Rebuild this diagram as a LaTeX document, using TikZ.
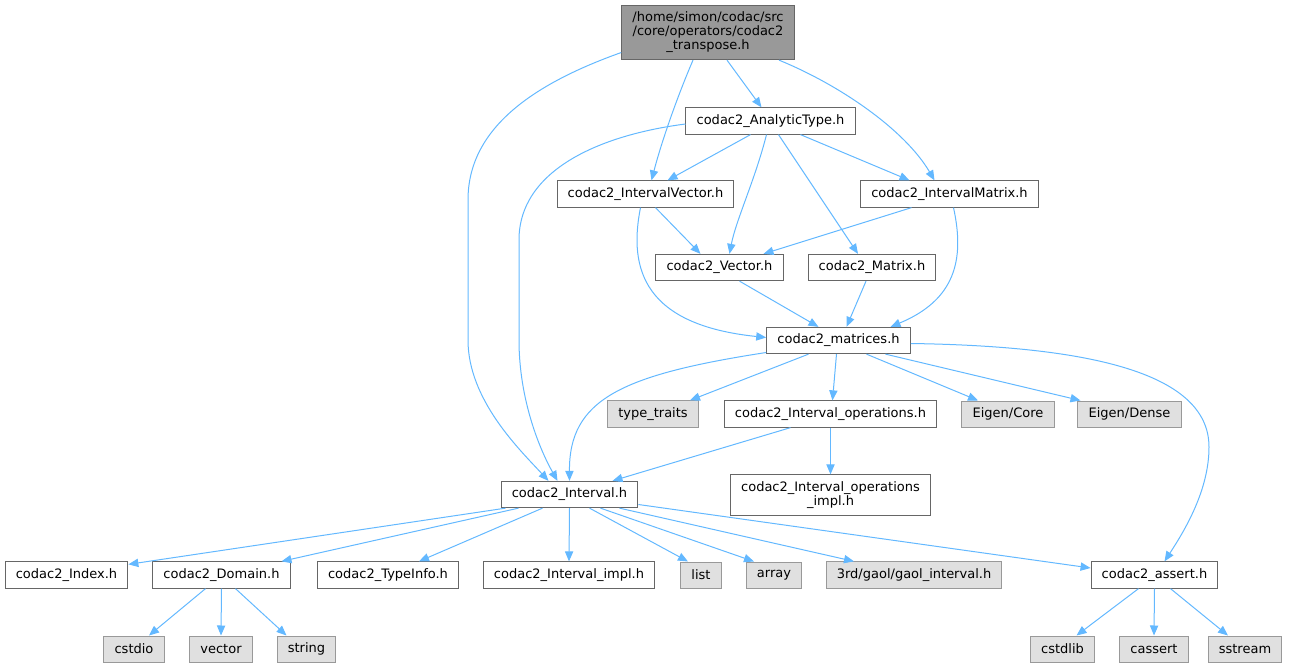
\documentclass[tikz,border=0pt]{standalone}
\usepackage{fontspec}
\setmainfont{DejaVu Sans}
\usepackage{tikz}
\usetikzlibrary{arrows.meta, calc}

\definecolor{grey40}{HTML}{666666}
\definecolor{grey60}{HTML}{999999}
\definecolor{grey87}{HTML}{E0E0E0}
\definecolor{edgeblue}{HTML}{63B8FF}

\begin{document}
\begin{tikzpicture}[x=0.75pt, y=-0.75pt,
        font=\fontsize{9.75}{10.5}\selectfont,
        hfile/.style = {draw=grey40, fill=white, line width=0.75pt, align=center, inner xsep=8pt, inner ysep=5pt, minimum height=19.5pt},
        sysfile/.style = {hfile, draw=grey60, fill=grey87},
        topfile/.style = {hfile, fill=grey60},
        incl/.style = {draw=edgeblue, line width=0.75pt, -{Triangle[length=7.5pt, width=6.2pt]}},
    ]
    \useasboundingbox (0,0) rectangle (1293,667);
    \node[topfile]  (transpose)  at (708,32.5)    {/home/simon/codac/src\\/core/operators/codac2\\\_transpose.h};
    \node[hfile]    (analytic)   at (770.5,121)   {codac2\_AnalyticType.h};
    \node[hfile]    (ivector)    at (645.5,194)   {codac2\_IntervalVector.h};
    \node[hfile]    (imatrix)    at (949.5,194)   {codac2\_IntervalMatrix.h};
    \node[hfile]    (vector)     at (719.5,267.5) {codac2\_Vector.h};
    \node[hfile]    (matrix)     at (872,267.5)   {codac2\_Matrix.h};
    \node[hfile]    (matrices)   at (838.5,340.5) {codac2\_matrices.h};
    \node[sysfile]  (typetraits) at (653,414)     {type\_traits};
    \node[hfile]    (ops)        at (830.5,414)   {codac2\_Interval\_operations.h};
    \node[sysfile]  (eigencore)  at (1008,414)    {Eigen/Core};
    \node[sysfile]  (eigendense) at (1129.5,414)  {Eigen/Dense};
    \node[hfile]    (opsimpl)    at (830.5,495)   {codac2\_Interval\_operations\\\_impl.h};
    \node[hfile]    (interval)   at (569.5,494.5) {codac2\_Interval.h};
    \node[hfile]    (index)      at (66.5,575)    {codac2\_Index.h};
    \node[hfile]    (domain)     at (221.5,575)   {codac2\_Domain.h};
    \node[hfile]    (typeinfo)   at (388,575)     {codac2\_TypeInfo.h};
    \node[hfile]    (intimpl)    at (569,575)     {codac2\_Interval\_impl.h};
    \node[sysfile]  (list)       at (701,575)     {list};
    \node[sysfile]  (array)      at (774,575)     {array};
    \node[sysfile]  (gaol)       at (914,575)     {3rd/gaol/gaol\_interval.h};
    \node[hfile]    (assert)     at (1154.5,575)  {codac2\_assert.h};
    \node[sysfile]  (cstdio)     at (134,649)     {cstdio};
    \node[sysfile]  (vectorh)    at (221,649)     {vector};
    \node[sysfile]  (string)     at (306.5,649)   {string};
    \node[sysfile]  (cstdlib)    at (1062.5,649)  {cstdlib};
    \node[sysfile]  (cassert)    at (1154,649)    {cassert};
    \node[sysfile]  (sstream)    at (1245,649)    {sstream};
    %
    \draw[incl] ($(transpose.west)+(0,20)$) .. controls (530,85) and (468,130) .. (468,200) -- (468,340) .. controls (468,400) and (520,450) .. ($(interval.north)+(-21,0)$);
    \draw[incl] ($(transpose.south)+(-15,0)$) .. controls (678,95) and (662,140) .. ($(ivector.north)+(6,0)$);
    \draw[incl] ($(transpose.south)+(19,0)$) -- ($(analytic.north)+(-9,0)$);
    \draw[incl] ($(transpose.south)+(71,0)$) .. controls (840,85) and (905,130) .. ($(imatrix.north)+(-15,0)$);
    \draw[incl] ($(analytic.west)+(0,3)$) .. controls (600,135) and (519,170) .. (519,240) -- (519,340) .. controls (519,400) and (540,450) .. ($(interval.north)+(-12,0)$);
    \draw[incl] ($(analytic.south)+(-20,0)$) -- ($(ivector.north)+(22,0)$);
    \draw[incl] ($(analytic.south)+(-4,0)$) .. controls (755,180) and (736,220) .. ($(vector.north)+(10,0)$);
    \draw[incl] ($(analytic.south)+(8,0)$) -- ($(matrix.north)+(-14,0)$);
    \draw[incl] ($(analytic.south)+(30,0)$) -- ($(imatrix.north)+(-40,0)$);
    \draw[incl] ($(ivector.south)+(-5,0)$) .. controls (628,270) and (645,325) .. ($(matrices.west)+(0,-3)$);
    \draw[incl] ($(ivector.south)+(10,0)$) -- ($(vector.north)+(-19,0)$);
    \draw[incl] ($(imatrix.south)+(-38,0)$) -- ($(vector.north)+(44,0)$);
    \draw[incl] ($(imatrix.south)+(4,0)$) .. controls (965,260) and (955,300) .. ($(matrices.north)+(52,0)$);
    \draw[incl] ($(vector.south)+(20,0)$) -- ($(matrices.north)+(-20,0)$);
    \draw[incl] ($(matrix.south)+(-6,0)$) -- ($(matrices.north)+(8,0)$);
    %
    \draw[incl] ($(matrices.west)+(0,12)$) .. controls (620,375) and (569,400) .. (interval.north);
    \draw[incl] ($(matrices.south)+(-30,0)$) -- ($(typetraits.north)+(37,0)$);
    \draw[incl] ($(matrices.south)+(-2,0)$) -- ($(ops.north)+(2,0)$);
    \draw[incl] ($(matrices.south)+(28,0)$) -- ($(eigencore.north)+(-30,0)$);
    \draw[incl] ($(matrices.south)+(47,0)$) -- ($(eigendense.north)+(-49,0)$);
    \draw[incl] ($(matrices.east)+(0,3)$) .. controls (1080,346) and (1209,370) .. (1209,447) .. controls (1209,490) and (1185,530) .. ($(assert.north)+(10,0)$);
    \draw[incl] ($(ops.south)+(-40,0)$) -- ($(interval.north)+(43,0)$);
    \draw[incl] (ops.south) -- (opsimpl.north);
    %
    \draw[incl] ($(interval.south west)+(5,0)$) -- ($(index.north east)+(0,3)$);
    \draw[incl] ($(interval.south)+(-51,0)$) -- ($(domain.north)+(60,0)$);
    \draw[incl] ($(interval.south)+(-27,0)$) -- ($(typeinfo.north)+(31,0)$);
    \draw[incl] (interval.south) -- (intimpl.north);
    \draw[incl] ($(interval.south)+(20,0)$) -- ($(list.north)+(-13,0)$);
    \draw[incl] ($(interval.south)+(31,0)$) -- ($(array.north)+(-20,0)$);
    \draw[incl] ($(interval.south)+(50,0)$) -- ($(gaol.north)+(-60,0)$);
    \draw[incl] ($(interval.east)+(0,10)$) -- ($(assert.west)+(0,-7)$);
    \draw[incl] ($(domain.south)+(-16,0)$) -- ($(cstdio.north)+(15,0)$);
    \draw[incl] (domain.south) -- (vectorh.north);
    \draw[incl] ($(domain.south)+(14,0)$) -- ($(string.north)+(-20,0)$);
    \draw[incl] ($(assert.south)+(-16,0)$) -- ($(cstdlib.north)+(14,0)$);
    \draw[incl] (assert.south) -- (cassert.north);
    \draw[incl] ($(assert.south)+(16,0)$) -- ($(sstream.north)+(-17,0)$);
    %
\end{tikzpicture}
\end{document}
